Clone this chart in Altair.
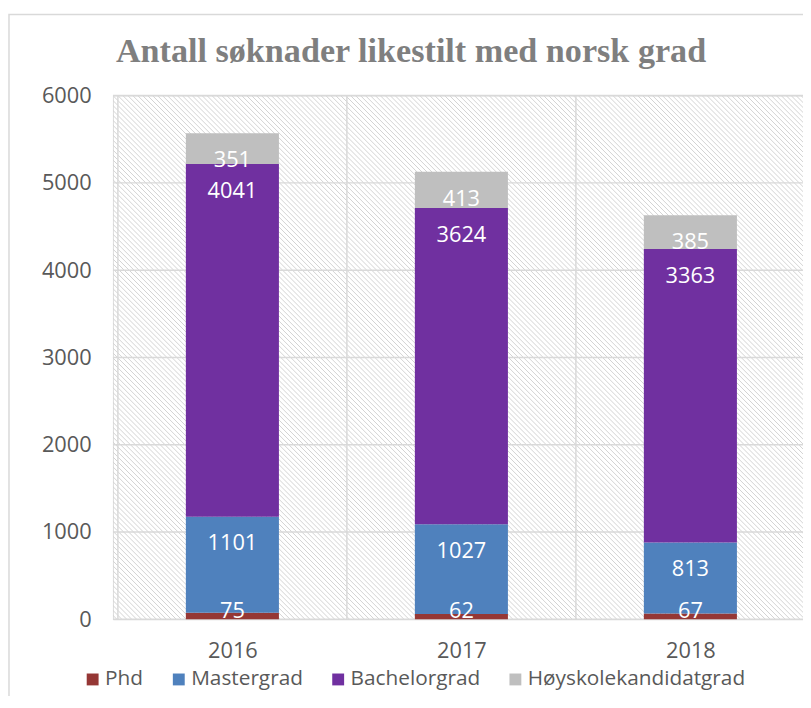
import altair as alt
import pandas as pd

# ---- data ----
years = [2016, 2017, 2018]
series = ["Phd", "Mastergrad", "Bachelorgrad", "Høyskolekandidatgrad"]
phd = [75, 62, 67]
master = [1101, 1027, 813]
bachelor = [4041, 3624, 3363]
hoyskole = [351, 413, 385]
colors = ["#953735", "#4f81bd", "#7030a0", "#bfbfbf"]
y_ticks = [0, 1000, 2000, 3000, 4000, 5000, 6000]

rows = []
for si, (name, vals) in enumerate(zip(series, [phd, master, bachelor, hoyskole])):
    for yr, v in zip(years, vals):
        rows.append({"year": yr, "series": name, "ord": si, "value": v})
df = pd.DataFrame(rows)

W, H = 697, 529
GRID = "#d9d9d9"
FONT = "Open Sans"
TXT = "#595959"

# the reference plot area is cut off at the right edge of the picture:
# 3 categories span 704 px, of which only 697 px are visible
x_scale = alt.Scale(domain=[2015.5, 2015.5 + 3 * W / 704], nice=False, zero=False)
y_scale = alt.Scale(domain=[0, 6000], nice=False)

x_axis = alt.Axis(
    title=None, values=years, format="d", labelAngle=0, ticks=False,
    domain=False, grid=False, labelFlush=False,
    labelPadding=22, labelFontSize=22, labelColor=TXT, labelFont=FONT,
)
y_axis = alt.Axis(
    title=None, values=y_ticks, format="d", ticks=False, domain=False, grid=False,
    labelPadding=22, labelFontSize=22, labelColor=TXT, labelFont=FONT,
)

# decorative diagonal hatching of the plot area
hatch = (
    alt.Chart(alt.sequence(-540, 710, 5, as_="k"))
    .transform_calculate(k2="datum.k + 529")
    .mark_rule(clip=True, color="#d2d2d2", strokeWidth=1)
    .encode(
        x=alt.X("k:Q", scale=None, axis=None),
        x2="k2:Q",
        y=alt.value(0),
        y2=alt.value(H),
    )
)

xgrid = (
    alt.Chart(pd.DataFrame({"year": years}))
    .transform_calculate(g="datum.year - 0.5")
    .mark_rule(color=GRID, strokeWidth=1.5)
    .encode(x=alt.X("g:Q", scale=x_scale, axis=x_axis))
)

ygrid = (
    alt.Chart(pd.DataFrame({"t": y_ticks}))
    .mark_rule(color=GRID, strokeWidth=1.5)
    .encode(y=alt.Y("t:Q", scale=y_scale, axis=y_axis))
)

bars = (
    alt.Chart(df)
    .mark_bar(size=94)
    .encode(
        x=alt.X("year:Q", scale=x_scale, axis=x_axis),
        y=alt.Y("value:Q", stack="zero", scale=y_scale, axis=y_axis),
        color=alt.Color(
            "series:N",
            scale=alt.Scale(domain=series, range=colors),
            legend=alt.Legend(
                title=None, orient="none", legendX=-31, legendY=579,
                direction="horizontal", columns=4, symbolType="square",
                symbolSize=144, symbolStrokeWidth=0, symbolOpacity=1,
                labelFont=FONT, labelFontSize=21, labelColor=TXT,
                labelOffset=2, columnPadding=25, labelLimit=500,
            ),
        ),
        order=alt.Order("ord:Q"),
    )
)

texts = (
    alt.Chart(df)
    .transform_stack(
        stack="value", groupby=["year"], as_=["y0", "y1"],
        sort=[alt.SortField("ord", order="ascending")],
    )
    .transform_calculate(ly="max(datum.y1 - 306, 91)")
    .mark_text(color="white", fontSize=22, font=FONT, baseline="middle")
    .encode(
        x=alt.X("year:Q", scale=x_scale, axis=x_axis),
        y=alt.Y("ly:Q", scale=y_scale, axis=y_axis),
        text="value:Q",
    )
)

border = (
    alt.Chart(alt.Data(values=[{"a": 1}]))
    .mark_rect(fillOpacity=0, stroke=GRID, strokeWidth=1.5)
    .encode(
        x=alt.value(-105), x2=alt.value(950),
        y=alt.value(-82), y2=alt.value(700),
    )
)

inner = alt.layer(xgrid, ygrid, bars, texts, border)

chart = (
    alt.layer(hatch, inner)
    .resolve_scale(x="independent")
    .properties(
        width=W,
        height=H,
        padding={"left": 106, "top": 85, "right": 0, "bottom": 74},
        autosize=alt.AutoSizeParams(type="none"),
        title=alt.Title(
            "Antall søknader likestilt med norsk grad",
            font="Liberation Serif", fontSize=34.5, fontWeight="bold",
            color="#7f7f7f", anchor="start", frame="group",
            dx=3, offset=-83, baseline="alphabetic",
        ),
    )
    .configure_view(stroke=None)
    .configure(background="white")
)

chart.save("out.html", embed_options={"renderer": "svg", "actions": False})
